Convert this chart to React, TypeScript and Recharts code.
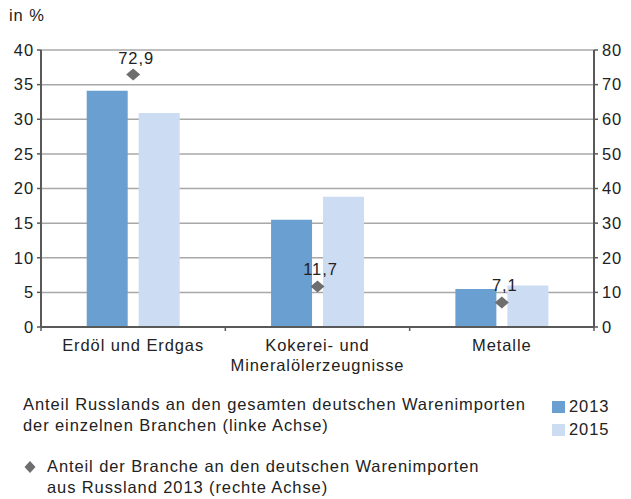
import React from "react";
import {
  ComposedChart,
  Bar,
  Scatter,
  XAxis,
  YAxis,
  CartesianGrid,
} from "recharts";

// values
const categories = ["Erdöl und Erdgas", "Kokerei- und\nMineralölerzeugnisse", "Metalle"];
const share2013 = [34.1, 15.5, 5.5];
const share2015 = [30.9, 18.8, 6.0];
const branchShare2013 = [72.9, 11.7, 7.1];
const leftTicks = [0, 5, 10, 15, 20, 25, 30, 35, 40];
const rightTicks = [0, 10, 20, 30, 40, 50, 60, 70, 80];

const seriesLegend = [
  { name: "2013", color: "#6a9fd2" },
  { name: "2015", color: "#ccdcf3" },
];

const FONT = '"Liberation Sans", Arial, Helvetica, sans-serif';
const FS = 16.5;
const LS = "0.9px";
const TEXT = "#222";
const AXIS = "#595959";

const data = categories.map((name, i) => ({
  name,
  y2013: share2013[i],
  y2015: share2015[i],
  branch: branchShare2013[i],
}));

function CategoryTick(props: any) {
  const { x, y, payload, index } = props;
  const lines = String(payload.value).split("\n");
  const half = payload.offset ?? 0;
  return (
    <g>
      <line x1={x - half} x2={x - half} y1={y} y2={y + 4} stroke={AXIS} strokeWidth={1.5} />
      {index === categories.length - 1 && (
        <line x1={x + half} x2={x + half} y1={y} y2={y + 4} stroke={AXIS} strokeWidth={1.5} />
      )}
      <text
        x={x}
        y={y + 24}
        textAnchor="middle"
        fontSize={FS}
        fill={TEXT}
        fontFamily={FONT}
        style={{ letterSpacing: LS }}
      >
        {lines.map((l, i) => (
          <tspan key={i} x={x} dy={i === 0 ? 0 : 20}>
            {l}
          </tspan>
        ))}
      </text>
    </g>
  );
}

function DiamondWithLabel(props: any) {
  const { cx, cy, payload } = props;
  if (cx == null || cy == null) return null;
  const label = String(payload.branch).replace(".", ",");
  return (
    <g>
      <polygon
        points={`${cx},${cy - 6} ${cx + 7},${cy} ${cx},${cy + 6} ${cx - 7},${cy}`}
        fill="#6e6e6e"
      />
      <text
        x={cx + 3}
        y={cy - 11}
        textAnchor="middle"
        fontSize={FS}
        fill={TEXT}
        fontFamily={FONT}
        style={{ letterSpacing: LS }}
      >
        {label}
      </text>
    </g>
  );
}

export default function App() {
  const tickStyle = {
    fontSize: FS,
    fill: TEXT,
    fontFamily: FONT,
    style: { letterSpacing: LS },
  };
  const htmlText = { fontSize: FS, lineHeight: "21px", letterSpacing: LS };
  return (
    <div
      style={{
        position: "absolute",
        left: 0,
        top: 0,
        width: 631,
        height: 499,
        background: "#fff",
        fontFamily: FONT,
        color: TEXT,
      }}
    >
      <div style={{ position: "absolute", left: 9, top: 5, ...htmlText }}>in %</div>

      <ComposedChart
        width={631}
        height={380}
        data={data}
        margin={{ top: 50, right: 0, left: 0, bottom: 0 }}
        barCategoryGap="24.8%"
        barGap={11}
      >
        <CartesianGrid
          yAxisId="left"
          vertical={false}
          stroke="#a8a8a8"
          strokeWidth={1.5}
        />
        <XAxis
          dataKey="name"
          height={53}
          axisLine={{ stroke: AXIS, strokeWidth: 2 }}
          tickLine={false}
          tickSize={0}
          tickMargin={0}
          interval={0}
          tick={<CategoryTick />}
        />
        <YAxis
          yAxisId="left"
          width={41}
          domain={[0, 40]}
          ticks={leftTicks}
          interval={0}
          axisLine={{ stroke: AXIS, strokeWidth: 2 }}
          tickLine={{ stroke: AXIS, strokeWidth: 1.5 }}
          tickSize={4}
          tickMargin={3}
          tick={tickStyle}
        />
        <YAxis
          yAxisId="right"
          orientation="right"
          width={37}
          domain={[0, 80]}
          ticks={rightTicks}
          interval={0}
          axisLine={{ stroke: AXIS, strokeWidth: 2 }}
          tickLine={{ stroke: AXIS, strokeWidth: 1.5 }}
          tickSize={4}
          tickMargin={4}
          tick={{ ...tickStyle, textAnchor: "start" }}
        />
        <Bar
          yAxisId="left"
          dataKey="y2013"
          fill={seriesLegend[0].color}
          isAnimationActive={false}
        />
        <Bar
          yAxisId="left"
          dataKey="y2015"
          fill={seriesLegend[1].color}
          isAnimationActive={false}
        />
        <Scatter
          yAxisId="right"
          dataKey="branch"
          shape={<DiamondWithLabel />}
          isAnimationActive={false}
        />
      </ComposedChart>

      <div style={{ position: "absolute", left: 23, top: 394, ...htmlText }}>
        Anteil Russlands an den gesamten deutschen Warenimporten
        <br />
        der einzelnen Branchen (linke Achse)
      </div>

      {seriesLegend.map((s, i) => (
        <div
          key={s.name}
          style={{
            position: "absolute",
            left: 552,
            top: 396 + i * 23,
            ...htmlText,
            display: "flex",
            alignItems: "center",
          }}
        >
          <span
            style={{
              display: "inline-block",
              width: 13,
              height: 12,
              background: s.color,
              marginRight: 4,
            }}
          />
          {s.name}
        </div>
      ))}

      <svg style={{ position: "absolute", left: 24, top: 460 }} width={12} height={14}>
        <polygon points="6,1 11.5,7 6,13 0.5,7" fill="#6e6e6e" />
      </svg>
      <div style={{ position: "absolute", left: 47, top: 456, ...htmlText }}>
        Anteil der Branche an den deutschen Warenimporten
        <br />
        aus Russland 2013 (rechte Achse)
      </div>
    </div>
  );
}
